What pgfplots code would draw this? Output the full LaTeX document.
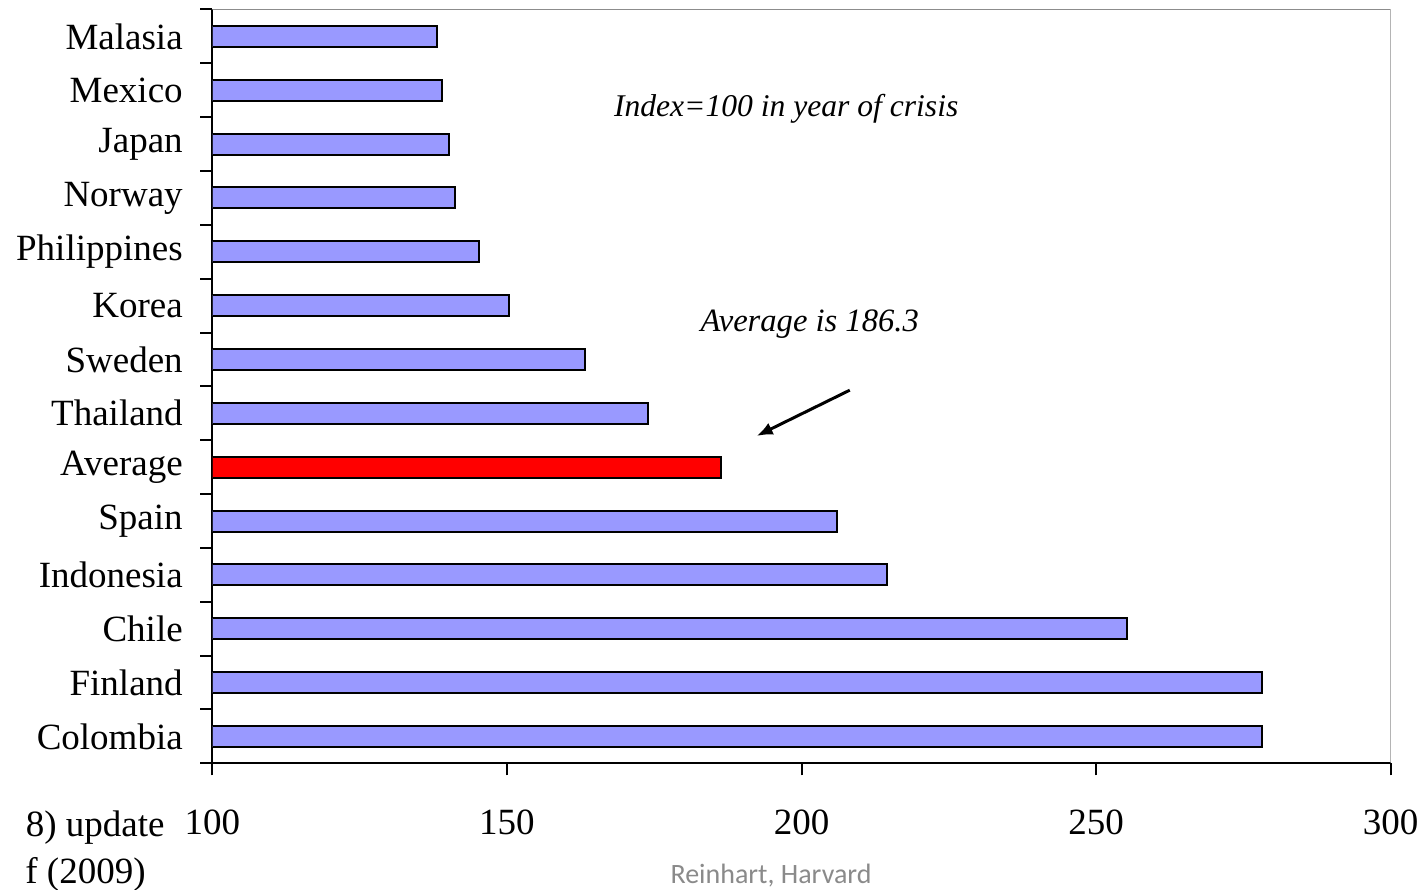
\documentclass[border=0pt]{standalone}
\usepackage{pgfplots}
\pgfplotsset{compat=1.18}
\usetikzlibrary{arrows.meta}
\usepackage{fontspec}
\setmainfont{Liberation Serif}
\newfontfamily\footfont{Carlito}
\definecolor{barblue}{HTML}{9999FF}
\definecolor{framegray}{HTML}{8C8C8C}
\definecolor{footgray}{HTML}{8A8A8A}

\begin{document}
\begin{tikzpicture}[x=1pt,y=1pt]
\path[use as bounding box] (0,0) rectangle (711,444.5);
\begin{axis}[
  at={(106.15pt,62.85pt)}, anchor=south west,
  scale only axis, width=589.2pt, height=376.9pt,
  xmin=100, xmax=300, ymin=-0.5, ymax=13.5,
  xbar, bar width=0.39, bar shift=0pt,
  axis x line*=bottom, axis y line*=left,
  axis line style={-, line width=1pt, black},
  xtick={100,150,200,250,300},
  ytick={0,...,13},
  yticklabels={Colombia,Finland,Chile,Indonesia,Spain,Average,Thailand,Sweden,Korea,Philippines,Norway,Japan,Mexico,Malasia},
  minor ytick={-0.5,0.5,...,13.5},
  tick align=outside,
  major tick length=6pt, minor tick length=6pt,
  major y tick style={draw=none},
  every tick/.style={black, line width=1pt},
  minor y tick style={black, line width=1pt},
  major x tick style={black, line width=1pt},
  /pgf/number format/assume math mode=true,
  ticklabel style={font=\fontsize{18.5}{22}\selectfont},
  yticklabel style={inner sep=0pt, xshift=-8.6pt},
  xticklabel style={inner sep=0pt, yshift=-17pt},
]
\addplot[fill=barblue, draw=black, line width=1pt] coordinates {
  (278.1,0) (278.1,1) (255.3,2) (214.5,3) (206.0,4)
  (174.0,6) (163.3,7) (150.4,8) (145.3,9) (141.2,10)
  (140.1,11) (139.0,12) (138.2,13)
};
\addplot[fill=red, draw=black, line width=1pt] coordinates {(186.3,5)};
\draw[framegray, line width=1pt] (rel axis cs:0,1) -- (rel axis cs:1,1) -- (rel axis cs:1,0);
% annotations
\node[font=\fontsize{15.8}{19}\selectfont\itshape] at (axis cs:197.4,11.66) {Index=100 in year of crisis};
\node[font=\fontsize{16.3}{19}\selectfont\itshape] at (axis cs:201.4,7.66) {Average is 186.3};
\draw[-{Latex[length=8pt,width=6.5pt]}, line width=1.5pt] (axis cs:208.2,6.43) -- (axis cs:192.4,5.58);
\end{axis}
\node[anchor=base east, inner sep=0pt, font=\fontsize{18.5}{22}\selectfont] at (82.5,26.5) {8) update};
\node[anchor=base east, inner sep=0pt, font=\fontsize{18.5}{22}\selectfont] at (73,3) {f (2009)};
\node[anchor=base, inner sep=0pt, text=footgray, font=\footfont\fontsize{14}{17}\selectfont] at (385.5,3) {Reinhart, Harvard};
\end{tikzpicture}
\end{document}
